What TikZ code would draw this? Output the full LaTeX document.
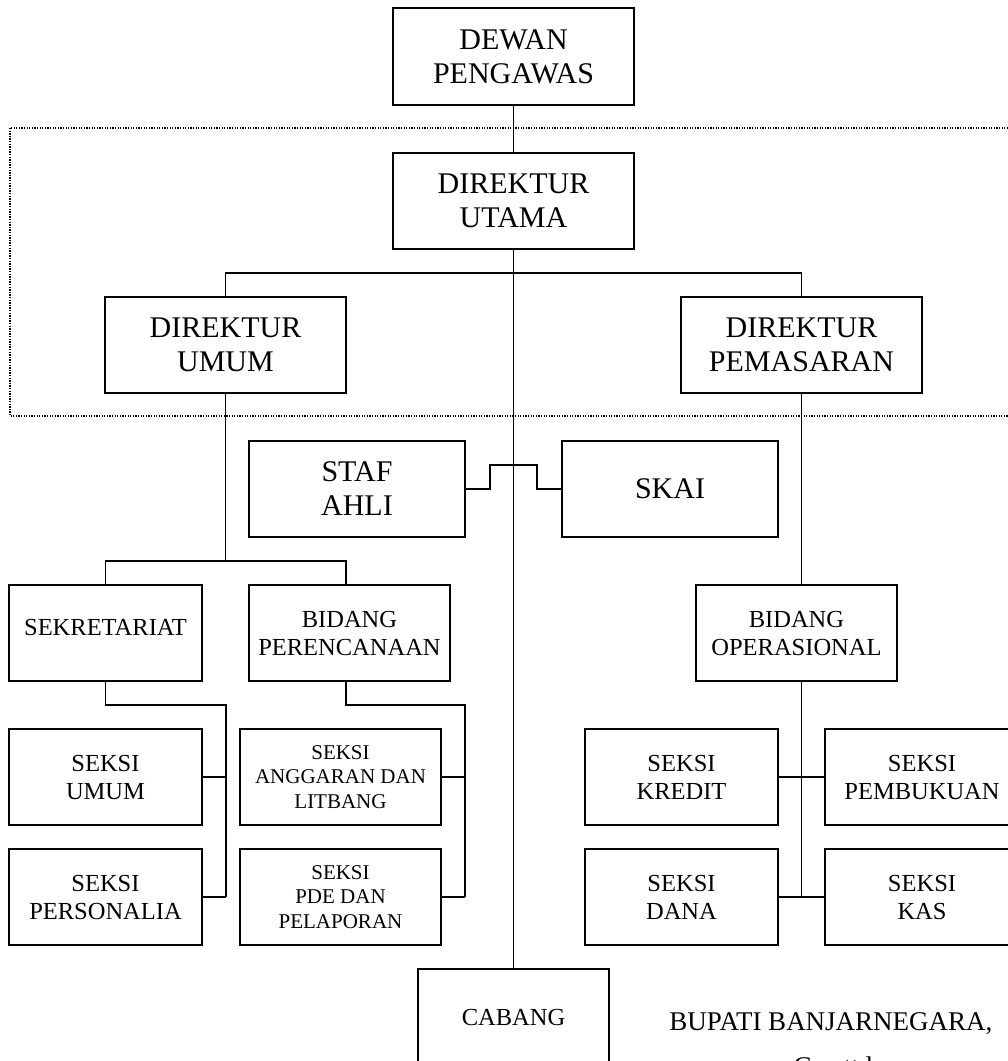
\documentclass[tikz,border=0pt]{standalone}
\usepackage{fontspec}
\setmainfont{Liberation Serif}
\begin{document}
\begin{tikzpicture}[x=1pt,y=-1pt,
  box/.style={draw, line width=1.7pt, rectangle, inner sep=0pt, align=center},
  big/.style={font=\fontsize{30}{34}\selectfont},
  mid/.style={font=\fontsize{24.5}{28}\selectfont},
  sml/.style={font=\fontsize{21}{24.5}\selectfont},
  conn/.style={line width=1.7pt},
  dotbox/.style={line width=1.2pt, dash pattern=on 1.3pt off 1.3pt}]
\useasboundingbox (0,0) rectangle (1008,1061);
\clip (0,0) rectangle (1008,1061);

% dotted frame
\draw[dotbox] (10,128) rectangle (1040,416);

% boxes
\node[box,big,minimum width=241,minimum height=97] (dewan) at (513.5,56.5) {DEWAN\\PENGAWAS};
\node[box,big,minimum width=241,minimum height=96] (utama) at (513.5,201) {DIREKTUR\\UTAMA};
\node[box,big,minimum width=241,minimum height=96] (umum) at (225.5,345) {DIREKTUR\\UMUM};
\node[box,big,minimum width=241,minimum height=96] (pemasaran) at (801.5,345) {DIREKTUR\\PEMASARAN};
\node[box,big,minimum width=216,minimum height=96] (staf) at (357,489) {STAF\\AHLI};
\node[box,big,minimum width=216,minimum height=96] (skai) at (670,489) {SKAI};
\node[box,mid,minimum width=193,minimum height=96] (sek) at (105.5,633) {\raisebox{6pt}[\height][\depth]{SEKRETARIAT}};
\node[box,mid,minimum width=201,minimum height=96] (perc) at (349.5,633) {BIDANG\\PERENCANAAN};
\node[box,mid,minimum width=201,minimum height=96] (oper) at (796.5,633) {BIDANG\\OPERASIONAL};
\node[box,mid,minimum width=193,minimum height=96] (sumum) at (105.5,777) {SEKSI\\UMUM};
\node[box,sml,minimum width=201,minimum height=96] (angg) at (340.5,777) {SEKSI\\ANGGARAN DAN\\LITBANG};
\node[box,mid,minimum width=193,minimum height=96] (kredit) at (681.5,777) {SEKSI\\KREDIT};
\node[box,mid,minimum width=194,minimum height=96] (pemb) at (922,777) {SEKSI\\PEMBUKUAN};
\node[box,mid,minimum width=193,minimum height=96] (pers) at (105.5,897) {SEKSI\\PERSONALIA};
\node[box,sml,minimum width=201,minimum height=96] (pde) at (340.5,897) {SEKSI\\PDE DAN\\PELAPORAN};
\node[box,mid,minimum width=193,minimum height=96] (dana) at (681.5,897) {SEKSI\\DANA};
\node[box,mid,minimum width=194,minimum height=96] (kas) at (922,897) {SEKSI\\KAS};
\node[box,mid,minimum width=191,minimum height=96] (cabang) at (513.5,1017) {CABANG};

\node[font=\fontsize{27}{30}\selectfont, anchor=base] (bupati) at (831,1030) {BUPATI BANJARNEGARA,};
\node[font=\fontsize{27}{30}\selectfont, anchor=base] (cap) at (833,1075) {Cap ttd};

% junction coordinates
\coordinate (busL) at (225.5,273);
\coordinate (busR) at (801.5,273);
\coordinate (ub) at (225.5,561);
\coordinate (pj) at (346,561);
\coordinate (sv) at (226,705);
\coordinate (pv) at (465,705);
\coordinate (sa) at (490,465);
\coordinate (sb) at (537,465);

% connectors
\draw[conn] (dewan.south) -- (utama.north);
\draw[conn] (utama.south) -- (cabang.north);
\draw[conn] (umum.north) -- (busL) -- (busR) -- (pemasaran.north);
\draw[conn] (staf.east) -| (sa) -- (sb) |- (skai.west);

\draw[conn] (umum.south) -- (ub);
\draw[conn] (sek.north) |- (ub) -- (pj) -- (pj |- perc.north);
\draw[conn] (sek.south) |- (sv) -- (sv |- pers.east);
\draw[conn] (sumum.east) -- (sumum.east -| sv);
\draw[conn] (pers.east) -- (pers.east -| sv);
\draw[conn] (pj |- perc.south) |- (pv) -- (pv |- pde.east);
\draw[conn] (angg.east) -- (angg.east -| pv);
\draw[conn] (pde.east) -- (pde.east -| pv);

\draw[conn] (pemasaran.south) -- (pemasaran.south |- oper.north);
\draw[conn] (pemasaran.south |- oper.south) -- (pemasaran.south |- dana.east);
\draw[conn] (kredit.east) -- (pemb.west);
\draw[conn] (dana.east) -- (kas.west);
\end{tikzpicture}
\end{document}
